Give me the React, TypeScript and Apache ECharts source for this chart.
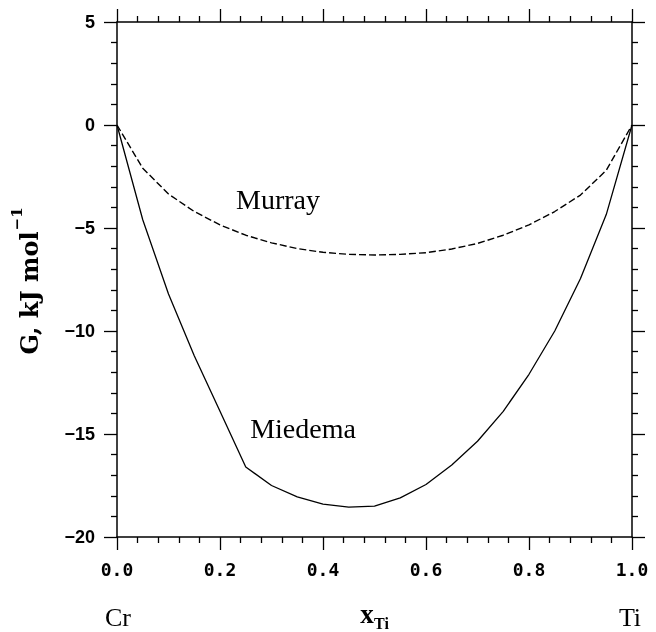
import React, { useEffect, useRef } from "react";
import * as echarts from "echarts";

const xValues = [0, 0.05, 0.1, 0.15, 0.2, 0.25, 0.3, 0.35, 0.4, 0.45, 0.5, 0.55, 0.6, 0.65, 0.7, 0.75, 0.8, 0.85, 0.9, 0.95, 1.0];
const murray = [0, -2.1, -3.35, -4.2, -4.85, -5.35, -5.72, -6.0, -6.18, -6.28, -6.31, -6.28, -6.2, -6.02, -5.75, -5.35, -4.85, -4.2, -3.4, -2.2, 0];
const miedema = [0, -4.6, -8.2, -11.2, -13.9, -16.6, -17.5, -18.05, -18.4, -18.55, -18.5, -18.1, -17.45, -16.5, -15.35, -13.9, -12.1, -10.0, -7.45, -4.35, 0];

const seriesNames = ["Murray", "Miedema"];
const elementLabels = ["Cr", "Ti"];

const SERIF = "'Liberation Serif', 'Times New Roman', serif";
const WSERIF = "'DejaVu Serif', serif";

function measure(text: string, font: string): number {
  const c = document.createElement("canvas");
  const ctx = c.getContext("2d");
  if (!ctx) return text.length * 12;
  ctx.font = font;
  return ctx.measureText(text).width;
}

export default function App() {
  const ref = useRef<HTMLDivElement>(null);
  useEffect(() => {
    if (!ref.current) return;
    const chart = echarts.init(ref.current, undefined, { renderer: "svg" });

    const axisLineStyle = { color: "#000", width: 1.5 };
    const tickStyle = { color: "#000", width: 1.3 };

    const xBase = {
      type: "value" as const,
      min: 0,
      max: 1,
      interval: 0.2,
      axisLine: { show: true, onZero: false, lineStyle: axisLineStyle },
      axisTick: { show: true, inside: false, length: 13, lineStyle: tickStyle },
      minorTick: { show: true, splitNumber: 5, length: 6, lineStyle: tickStyle },
      splitLine: { show: false },
      minorSplitLine: { show: false },
    };
    const yBase = {
      type: "value" as const,
      min: -20,
      max: 5,
      interval: 5,
      axisLine: { show: true, onZero: false, lineStyle: axisLineStyle },
      axisTick: { show: true, inside: false, length: 13, lineStyle: tickStyle },
      minorTick: { show: true, splitNumber: 5, length: 6, lineStyle: tickStyle },
      splitLine: { show: false },
      minorSplitLine: { show: false },
    };

    const mainText = "G, kJ mol";
    const titleFont = `bold 24px ${WSERIF}`;
    const mainW = measure(mainText, titleFont);
    const supText = "\u22121";
    const supFont = `bold 15px ${WSERIF}`;
    const supW = measure(supText, supFont);
    const totalW = mainW + 1 + supW;
    const startX = -totalW / 2;

    chart.setOption({
      animation: false,
      grid: { left: 117, top: 22, width: 515, height: 515, containLabel: false },
      xAxis: [
        {
          ...xBase,
          position: "bottom",
          axisLabel: {
            show: true,
            margin: 23,
            color: "#000",
            fontSize: 18,
            fontWeight: "bold",
            fontFamily: "'DejaVu Sans Mono', monospace",
            formatter: (v: number) => v.toFixed(1),
          },
        },
        {
          ...xBase,
          position: "top",
          axisLabel: { show: false },
        },
      ],
      yAxis: [
        {
          ...yBase,
          position: "left",
          axisLabel: {
            show: true,
            margin: 22,
            color: "#000",
            fontSize: 18,
            fontWeight: "bold",
            fontFamily: "'Liberation Sans', Arial, sans-serif",
            formatter: (v: number) => (v < 0 ? "\u2212" + Math.abs(v) : String(v)),
          },
        },
        {
          ...yBase,
          position: "right",
          axisLabel: { show: false },
        },
      ],
      series: [
        {
          name: seriesNames[0],
          type: "line",
          xAxisIndex: 0,
          yAxisIndex: 0,
          data: xValues.map((x, i) => [x, murray[i]]),
          symbol: "none",
          lineStyle: { color: "#000", width: 1.4, type: [7, 3] },
        },
        {
          name: seriesNames[1],
          type: "line",
          xAxisIndex: 0,
          yAxisIndex: 0,
          data: xValues.map((x, i) => [x, miedema[i]]),
          symbol: "none",
          lineStyle: { color: "#000", width: 1.3, type: "solid" },
        },
      ],
      graphic: [
        {
          type: "text",
          x: 278,
          y: 199,
          style: { text: seriesNames[0], font: `28px ${SERIF}`, fill: "#000", textAlign: "center", textVerticalAlign: "middle" },
        },
        {
          type: "text",
          x: 303,
          y: 428,
          style: { text: seriesNames[1], font: `28px ${SERIF}`, fill: "#000", textAlign: "center", textVerticalAlign: "middle" },
        },
        {
          type: "text",
          x: 118,
          y: 617,
          style: { text: elementLabels[0], font: `26px ${SERIF}`, fill: "#000", textAlign: "center", textVerticalAlign: "middle" },
        },
        {
          type: "text",
          x: 630,
          y: 617,
          style: { text: elementLabels[1], font: `26px ${SERIF}`, fill: "#000", textAlign: "center", textVerticalAlign: "middle" },
        },
        {
          type: "text",
          x: 367,
          y: 614,
          style: { text: "x", font: `bold 27px ${SERIF}`, fill: "#000", textAlign: "center", textVerticalAlign: "middle" },
        },
        {
          type: "text",
          x: 374,
          y: 623,
          style: { text: "Ti", font: `bold 16px ${SERIF}`, fill: "#000", textAlign: "left", textVerticalAlign: "middle" },
        },
        {
          type: "group",
          x: 29,
          y: 281,
          rotation: Math.PI / 2,
          children: [
            {
              type: "text",
              x: startX,
              y: 0,
              style: { text: mainText, font: titleFont, fill: "#000", textAlign: "left", textVerticalAlign: "middle" },
            },
            {
              type: "text",
              x: startX + mainW + 1,
              y: -12,
              style: { text: supText, font: supFont, fill: "#000", textAlign: "left", textVerticalAlign: "middle" },
            },
          ],
        },
      ],
    });
    return () => chart.dispose();
  }, []);
  return <div ref={ref} style={{ position: "fixed", left: 0, top: 0, width: 656, height: 632 }} />;
}
